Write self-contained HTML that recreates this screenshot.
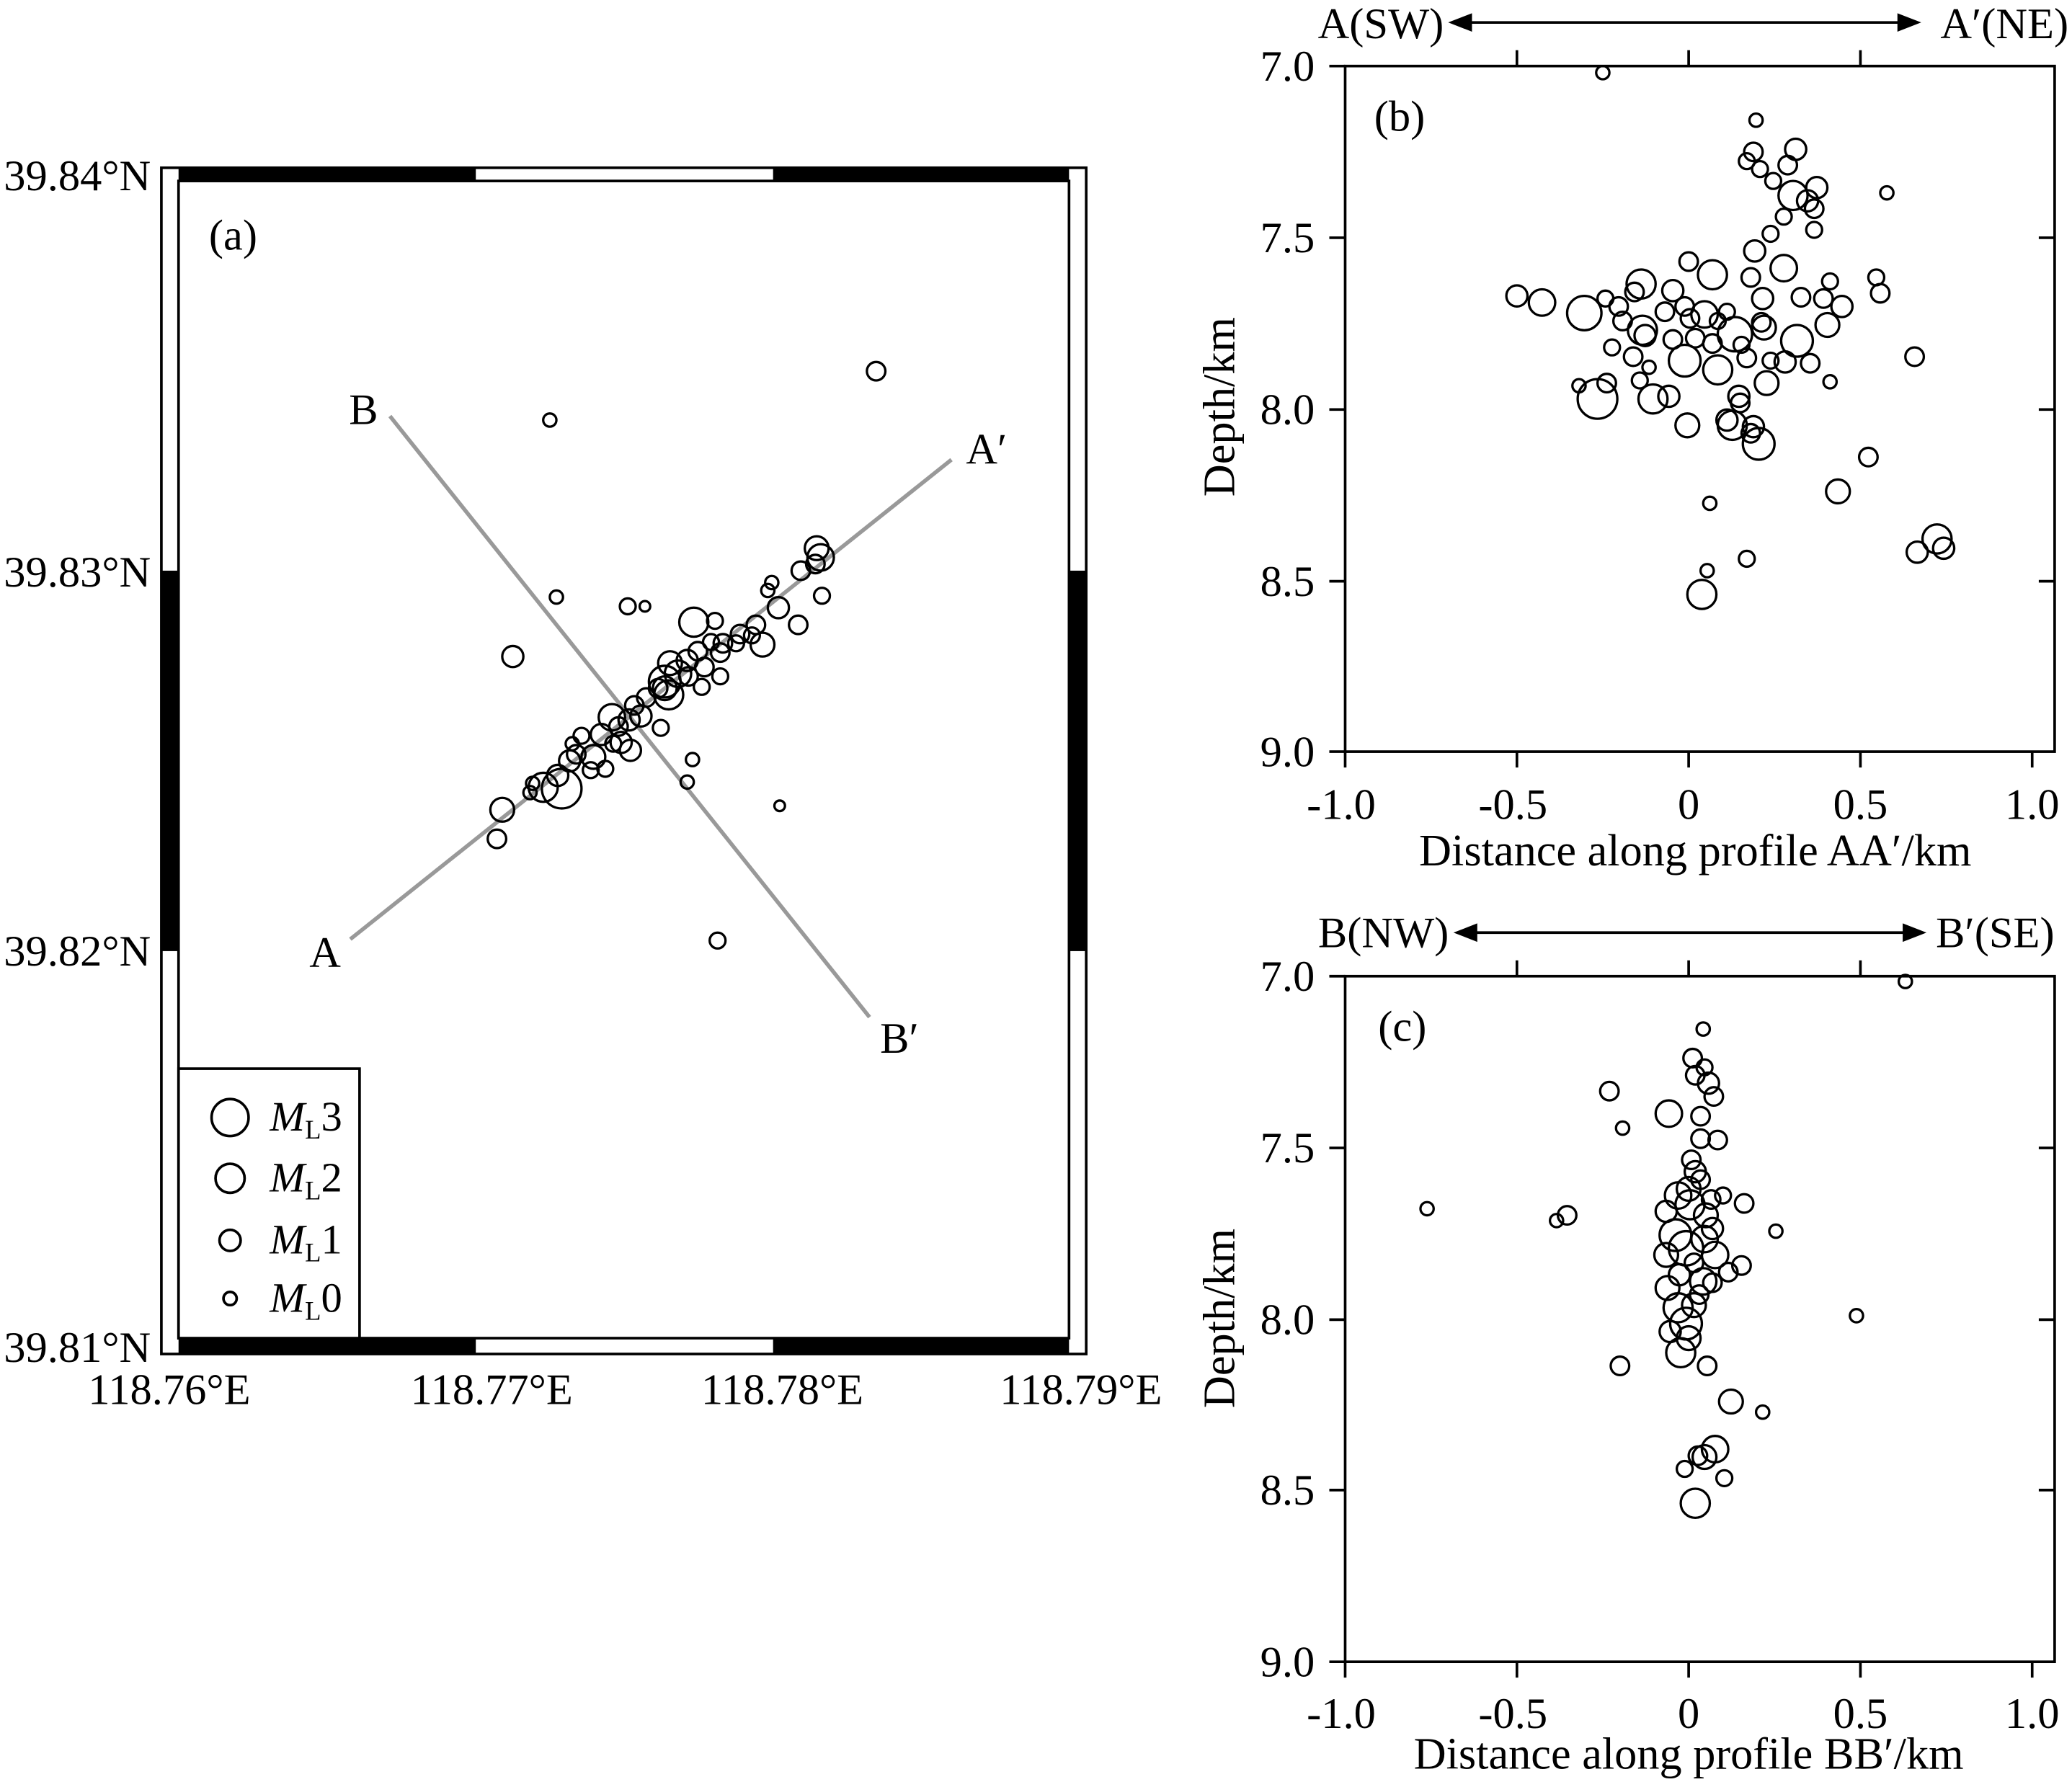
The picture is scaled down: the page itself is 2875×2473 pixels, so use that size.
<!DOCTYPE html>
<html><head><meta charset="utf-8"><style>html,body{margin:0;padding:0;background:#fff}svg{display:block}</style></head><body>
<svg width="2875" height="2473" viewBox="0 0 1568 1349" xmlns="http://www.w3.org/2000/svg" font-family="Liberation Serif, serif" font-size="33">
<rect width="1568" height="1349" fill="#fff"/>
<g stroke="#000" stroke-width="2" fill="none">
<rect x="122" y="127" width="700" height="898"/>
<rect x="135" y="137" width="674" height="876"/>
</g>
<g fill="#000">
<rect x="135" y="127" width="225" height="10"/><rect x="585" y="127" width="224" height="10"/>
<rect x="135" y="1013" width="225" height="12"/><rect x="585" y="1013" width="224" height="12"/>
<rect x="122" y="432" width="13" height="288"/><rect x="809" y="432" width="13" height="288"/>
</g>
<g text-anchor="end">
<text x="114" y="144">39.84°N</text><text x="114" y="444">39.83°N</text>
<text x="114" y="731">39.82°N</text><text x="114" y="1031">39.81°N</text>
</g>
<g text-anchor="middle">
<text x="128" y="1063">118.76°E</text><text x="372" y="1063">118.77°E</text>
<text x="592" y="1063">118.78°E</text><text x="818" y="1063">118.79°E</text>
</g>
<text x="158" y="189">(a)</text>
<g stroke="#999" stroke-width="3"><line x1="265" y1="711" x2="720" y2="348"/><line x1="295" y1="315" x2="658" y2="770"/></g>
<text x="234" y="732">A</text><text x="731" y="351">A′</text><text x="264" y="321">B</text><text x="666" y="797">B′</text>
<g fill="none" stroke="#000" stroke-width="1.8">
<circle cx="663" cy="281" r="7"/><circle cx="416" cy="318" r="5"/><circle cx="421" cy="452" r="5"/><circle cx="475" cy="459" r="6"/><circle cx="488" cy="459" r="4"/><circle cx="388" cy="497" r="8"/><circle cx="618" cy="415" r="9"/><circle cx="621" cy="422" r="10"/><circle cx="617" cy="427" r="7"/><circle cx="606" cy="432" r="7"/><circle cx="622" cy="451" r="6"/><circle cx="584" cy="441" r="5"/><circle cx="581" cy="447" r="5"/><circle cx="589" cy="460" r="8"/><circle cx="604" cy="473" r="7"/><circle cx="572" cy="473" r="7"/><circle cx="569" cy="481" r="6"/><circle cx="577" cy="488" r="9"/><circle cx="525" cy="471" r="11"/><circle cx="541" cy="470" r="6"/><circle cx="560" cy="480" r="7"/><circle cx="547" cy="487" r="7"/><circle cx="538" cy="486" r="6"/><circle cx="557" cy="487" r="6"/><circle cx="545" cy="494" r="7"/><circle cx="528" cy="493" r="7"/><circle cx="507" cy="502" r="9"/><circle cx="520" cy="500" r="8"/><circle cx="533" cy="505" r="7"/><circle cx="513" cy="510" r="10"/><circle cx="503" cy="516" r="12"/><circle cx="506" cy="526" r="11"/><circle cx="498" cy="521" r="7"/><circle cx="521" cy="512" r="7"/><circle cx="545" cy="512" r="6"/><circle cx="531" cy="520" r="6"/><circle cx="489" cy="528" r="7"/><circle cx="480" cy="534" r="7"/><circle cx="485" cy="542" r="8"/><circle cx="476" cy="545" r="8"/><circle cx="463" cy="543" r="10"/><circle cx="468" cy="550" r="7"/><circle cx="455" cy="556" r="8"/><circle cx="500" cy="551" r="6"/><circle cx="470" cy="562" r="8"/><circle cx="440" cy="557" r="6"/><circle cx="433" cy="563" r="5"/><circle cx="436" cy="571" r="7"/><circle cx="431" cy="576" r="8"/><circle cx="449" cy="573" r="9"/><circle cx="477" cy="568" r="8"/><circle cx="464" cy="563" r="6"/><circle cx="458" cy="582" r="6"/><circle cx="447" cy="583" r="6"/><circle cx="422" cy="587" r="8"/><circle cx="425" cy="597" r="15"/><circle cx="411" cy="596" r="11"/><circle cx="403" cy="593" r="5"/><circle cx="401" cy="600" r="5"/><circle cx="380" cy="613" r="9"/><circle cx="376" cy="635" r="7"/><circle cx="524" cy="575" r="5"/><circle cx="520" cy="592" r="5"/><circle cx="590" cy="610" r="4"/><circle cx="543" cy="712" r="6"/><circle cx="503" cy="521" r="9"/>
</g>
<rect x="135" y="809" width="137" height="204" fill="#fff" stroke="#000" stroke-width="2"/>
<g fill="none" stroke="#000" stroke-width="2">
<circle cx="174" cy="846" r="14"/><circle cx="174" cy="892" r="11"/><circle cx="174" cy="939" r="8"/><circle cx="174" cy="983" r="5"/>
</g>
<g font-size="32">
<text x="204" y="856"><tspan font-style="italic">M</tspan><tspan font-size="20" dy="6">L</tspan><tspan dy="-6">3</tspan></text>
<text x="204" y="902"><tspan font-style="italic">M</tspan><tspan font-size="20" dy="6">L</tspan><tspan dy="-6">2</tspan></text>
<text x="204" y="949"><tspan font-style="italic">M</tspan><tspan font-size="20" dy="6">L</tspan><tspan dy="-6">1</tspan></text>
<text x="204" y="993"><tspan font-style="italic">M</tspan><tspan font-size="20" dy="6">L</tspan><tspan dy="-6">0</tspan></text>
</g>

<g stroke="#000" stroke-width="2" fill="none">
<rect x="1018" y="50" width="537" height="519"/>
<path d="M1018 569v12M1148 569v12M1278 569v12M1408 569v12M1538 569v12M1018 50h-12M1018 180h-12M1018 310h-12M1018 440h-12M1018 569h-12"/>
<path d="M1148 50v-12M1278 50v-12M1408 50v-12M1555 180h-12M1555 310h-12M1555 440h-12"/>
<line x1="1108" y1="17" x2="1442" y2="17"/>
</g>
<path d="M1096 17l18-7v14z M1454 17l-18-7v14z" fill="#000"/>
<text x="1045" y="29" text-anchor="middle">A(SW)</text><text x="1517" y="29" text-anchor="middle">A′(NE)</text>
<g text-anchor="end"><text x="995" y="61">7.0</text><text x="995" y="191">7.5</text><text x="995" y="321">8.0</text><text x="995" y="451">8.5</text><text x="995" y="580">9.0</text></g>
<g text-anchor="middle"><text x="1015" y="620">-1.0</text><text x="1145" y="620">-0.5</text><text x="1278" y="620">0</text><text x="1408" y="620">0.5</text><text x="1538" y="620">1.0</text></g>
<text x="1283" y="655" text-anchor="middle" font-size="34">Distance along profile AA′/km</text>
<text transform="translate(934,308) rotate(-90)" text-anchor="middle" font-size="34">Depth/km</text>
<text x="1040" y="99">(b)</text>
<g fill="none" stroke="#000" stroke-width="1.8">
<circle cx="1213" cy="55" r="5"/><circle cx="1329" cy="91" r="5"/><circle cx="1327" cy="115" r="7"/><circle cx="1359" cy="113" r="8"/><circle cx="1322" cy="122" r="6"/><circle cx="1332" cy="128" r="6"/><circle cx="1353" cy="125" r="7"/><circle cx="1342" cy="137" r="6"/><circle cx="1375" cy="142" r="8"/><circle cx="1428" cy="146" r="5"/><circle cx="1357" cy="148" r="11"/><circle cx="1368" cy="152" r="8"/><circle cx="1373" cy="158" r="7"/><circle cx="1350" cy="164" r="6"/><circle cx="1340" cy="177" r="6"/><circle cx="1373" cy="174" r="6"/><circle cx="1328" cy="190" r="8"/><circle cx="1278" cy="198" r="7"/><circle cx="1350" cy="203" r="10"/><circle cx="1325" cy="210" r="7"/><circle cx="1296" cy="208" r="11"/><circle cx="1385" cy="213" r="6"/><circle cx="1420" cy="210" r="6"/><circle cx="1423" cy="222" r="7"/><circle cx="1148" cy="224" r="8"/><circle cx="1167" cy="229" r="10"/><circle cx="1215" cy="226" r="6"/><circle cx="1199" cy="237" r="13"/><circle cx="1242" cy="215" r="11"/><circle cx="1237" cy="221" r="7"/><circle cx="1225" cy="232" r="7"/><circle cx="1266" cy="220" r="8"/><circle cx="1275" cy="232" r="7"/><circle cx="1243" cy="250" r="11"/><circle cx="1260" cy="236" r="7"/><circle cx="1279" cy="241" r="7"/><circle cx="1290" cy="238" r="10"/><circle cx="1300" cy="243" r="6"/><circle cx="1313" cy="253" r="13"/><circle cx="1296" cy="260" r="7"/><circle cx="1307" cy="236" r="6"/><circle cx="1334" cy="226" r="8"/><circle cx="1333" cy="244" r="7"/><circle cx="1318" cy="261" r="6"/><circle cx="1283" cy="256" r="7"/><circle cx="1335" cy="248" r="9"/><circle cx="1363" cy="225" r="7"/><circle cx="1380" cy="226" r="7"/><circle cx="1394" cy="232" r="8"/><circle cx="1360" cy="258" r="12"/><circle cx="1383" cy="246" r="9"/><circle cx="1228" cy="243" r="7"/><circle cx="1245" cy="254" r="8"/><circle cx="1266" cy="257" r="7"/><circle cx="1220" cy="263" r="6"/><circle cx="1275" cy="273" r="12"/><circle cx="1300" cy="280" r="11"/><circle cx="1236" cy="270" r="7"/><circle cx="1248" cy="278" r="5"/><circle cx="1322" cy="271" r="7"/><circle cx="1340" cy="273" r="6"/><circle cx="1351" cy="274" r="8"/><circle cx="1370" cy="275" r="7"/><circle cx="1195" cy="292" r="5"/><circle cx="1209" cy="302" r="15"/><circle cx="1241" cy="288" r="6"/><circle cx="1251" cy="302" r="11"/><circle cx="1216" cy="290" r="7"/><circle cx="1263" cy="300" r="8"/><circle cx="1337" cy="290" r="9"/><circle cx="1385" cy="289" r="5"/><circle cx="1449" cy="270" r="7"/><circle cx="1316" cy="300" r="8"/><circle cx="1317" cy="305" r="7"/><circle cx="1307" cy="318" r="8"/><circle cx="1311" cy="322" r="11"/><circle cx="1327" cy="323" r="8"/><circle cx="1325" cy="328" r="7"/><circle cx="1331" cy="336" r="12"/><circle cx="1277" cy="322" r="9"/><circle cx="1414" cy="346" r="7"/><circle cx="1391" cy="372" r="9"/><circle cx="1294" cy="381" r="5"/><circle cx="1451" cy="418" r="8"/><circle cx="1466" cy="408" r="11"/><circle cx="1471" cy="415" r="8"/><circle cx="1292" cy="432" r="5"/><circle cx="1322" cy="423" r="6"/><circle cx="1288" cy="450" r="11"/>
</g>

<g stroke="#000" stroke-width="2" fill="none">
<rect x="1018" y="739" width="537" height="519"/>
<path d="M1018 1258v12M1148 1258v12M1278 1258v12M1408 1258v12M1538 1258v12M1018 739h-12M1018 869h-12M1018 999h-12M1018 1128h-12M1018 1258h-12"/>
<path d="M1148 739v-12M1278 739v-12M1408 739v-12M1555 869h-12M1555 999h-12M1555 1128h-12"/>
<line x1="1112" y1="706" x2="1446" y2="706"/>
</g>
<path d="M1100 706l18-7v14z M1458 706l-18-7v14z" fill="#000"/>
<text x="1047" y="717" text-anchor="middle">B(NW)</text><text x="1510" y="717" text-anchor="middle">B′(SE)</text>
<g text-anchor="end"><text x="995" y="750">7.0</text><text x="995" y="880">7.5</text><text x="995" y="1010">8.0</text><text x="995" y="1139">8.5</text><text x="995" y="1269">9.0</text></g>
<g text-anchor="middle"><text x="1015" y="1308">-1.0</text><text x="1145" y="1308">-0.5</text><text x="1278" y="1308">0</text><text x="1408" y="1308">0.5</text><text x="1538" y="1308">1.0</text></g>
<text x="1278" y="1339" text-anchor="middle" font-size="34">Distance along profile BB′/km</text>
<text transform="translate(934,998) rotate(-90)" text-anchor="middle" font-size="34">Depth/km</text>
<text x="1043" y="788">(c)</text>
<g fill="none" stroke="#000" stroke-width="1.8">
<circle cx="1442" cy="743" r="5"/><circle cx="1289" cy="779" r="5"/><circle cx="1281" cy="801" r="7"/><circle cx="1290" cy="808" r="6"/><circle cx="1283" cy="814" r="7"/><circle cx="1293" cy="820" r="8"/><circle cx="1297" cy="830" r="7"/><circle cx="1218" cy="826" r="7"/><circle cx="1287" cy="845" r="7"/><circle cx="1263" cy="843" r="10"/><circle cx="1228" cy="854" r="5"/><circle cx="1300" cy="863" r="7"/><circle cx="1287" cy="862" r="7"/><circle cx="1280" cy="878" r="7"/><circle cx="1283" cy="887" r="8"/><circle cx="1287" cy="893" r="7"/><circle cx="1278" cy="900" r="9"/><circle cx="1270" cy="905" r="10"/><circle cx="1295" cy="908" r="7"/><circle cx="1304" cy="905" r="6"/><circle cx="1320" cy="911" r="7"/><circle cx="1261" cy="917" r="8"/><circle cx="1186" cy="920" r="7"/><circle cx="1178" cy="924" r="5"/><circle cx="1080" cy="915" r="5"/><circle cx="1344" cy="932" r="5"/><circle cx="1279" cy="912" r="11"/><circle cx="1291" cy="920" r="9"/><circle cx="1296" cy="930" r="8"/><circle cx="1268" cy="935" r="12"/><circle cx="1290" cy="938" r="10"/><circle cx="1276" cy="945" r="13"/><circle cx="1261" cy="950" r="9"/><circle cx="1298" cy="950" r="10"/><circle cx="1282" cy="956" r="7"/><circle cx="1308" cy="963" r="7"/><circle cx="1318" cy="958" r="7"/><circle cx="1271" cy="965" r="8"/><circle cx="1289" cy="970" r="10"/><circle cx="1262" cy="975" r="9"/><circle cx="1286" cy="980" r="7"/><circle cx="1296" cy="971" r="7"/><circle cx="1270" cy="990" r="11"/><circle cx="1282" cy="988" r="9"/><circle cx="1276" cy="1002" r="12"/><circle cx="1264" cy="1008" r="8"/><circle cx="1278" cy="1013" r="9"/><circle cx="1272" cy="1024" r="11"/><circle cx="1405" cy="996" r="5"/><circle cx="1226" cy="1034" r="7"/><circle cx="1292" cy="1034" r="7"/><circle cx="1310" cy="1061" r="9"/><circle cx="1334" cy="1069" r="5"/><circle cx="1298" cy="1097" r="10"/><circle cx="1290" cy="1103" r="9"/><circle cx="1285" cy="1102" r="7"/><circle cx="1275" cy="1112" r="6"/><circle cx="1305" cy="1119" r="6"/><circle cx="1283" cy="1138" r="11"/>
</g>
</svg>
</body></html>
